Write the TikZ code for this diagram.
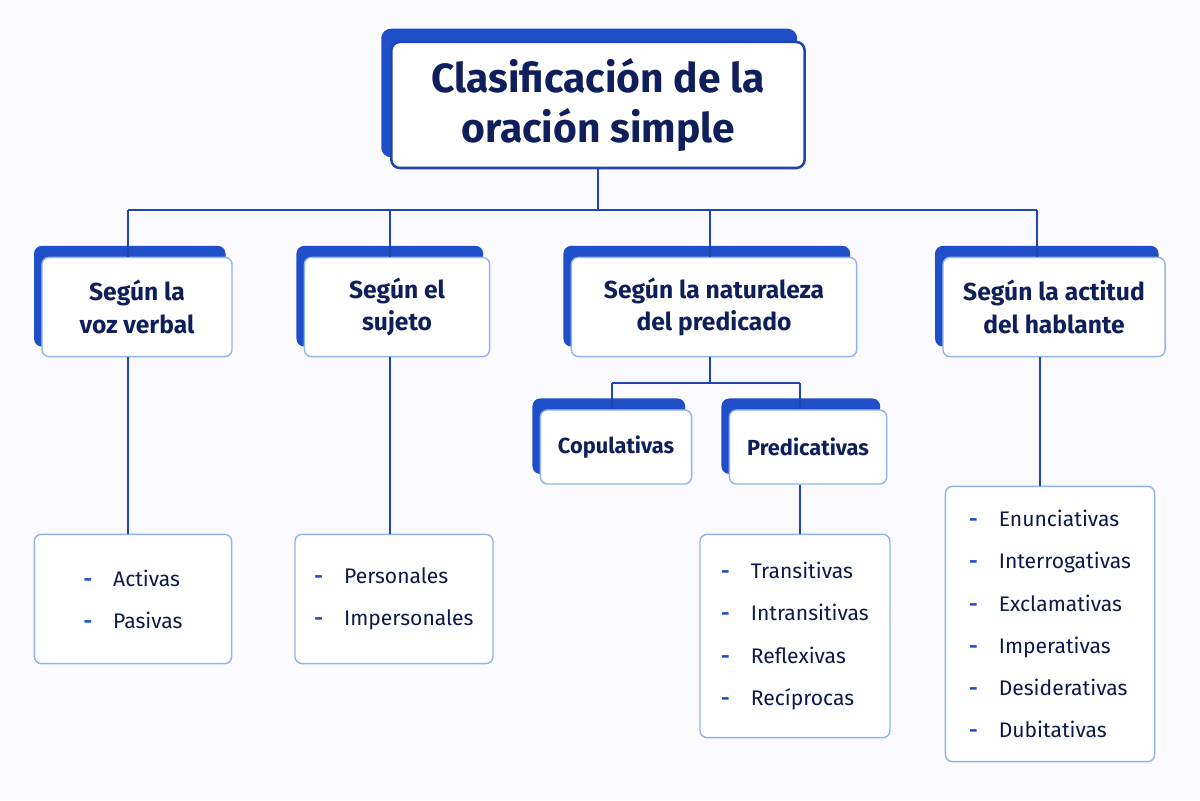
\documentclass[tikz,border=0pt]{standalone}
\usepackage{fontspec}
\setmainfont{Fira Sans}
\usetikzlibrary{shadows,positioning}
\definecolor{navy}{HTML}{0F1F5C}
\definecolor{boxblue}{HTML}{1F4FC8}
\definecolor{lightblue}{HTML}{8FB4EE}
\definecolor{lineblue}{HTML}{1E45B0}
\begin{document}
\begin{tikzpicture}[x=0.025cm, y=-0.025cm,
    title/.style={rectangle, rounded corners=6pt, draw=lineblue, line width=1.8pt, fill=white, text=navy, font=\bfseries\fontsize{29}{35}\selectfont, align=center, minimum width=10.33cm, minimum height=3.15cm, copy shadow={shadow xshift=-0.22cm, shadow yshift=0.3cm, fill=boxblue, draw=boxblue}},
    cat/.style={rectangle, rounded corners=5pt, draw=lightblue, line width=1pt, fill=white, text=navy, font=\bfseries\fontsize{17.5}{23}\selectfont, align=center, minimum height=2.48cm, copy shadow={shadow xshift=-0.18cm, shadow yshift=0.27cm, fill=boxblue, draw=boxblue}},
    sub/.style={cat, font=\bfseries\fontsize{15.5}{20}\selectfont, minimum height=1.85cm},
    leaf/.style={rectangle, rounded corners=5pt, draw=lightblue, line width=1pt, fill=white, text=navy!80!black, font=\fontsize{15}{30}\selectfont, align=left, inner xsep=10pt},
    conn/.style={draw=lineblue, line width=2pt}
]
\fill[blue!2] (0,0) rectangle (1200,800);

% top
\node (top) [title] at (598,105) {Clasificación de la\\oración simple};

% categories
\node (voz) [cat, minimum width=4.75cm] at (137,307) {Según la\\voz verbal};
\node (suj) [cat, minimum width=4.63cm] at (397,307) {Según el\\sujeto};
\node (nat) [cat, minimum width=7.13cm] at (714,307) {Según la naturaleza\\del predicado};
\node (act) [cat, minimum width=5.55cm] at (1054,307) {Según la actitud\\del hablante};

\node (cop) [sub, minimum width=3.78cm] at (616,447) {Copulativas};
\node (pred) [sub, minimum width=3.93cm] at (808,447) {Predicativas};

% lists
\newcommand{\dd}{{\color{boxblue}\textbf{-}}\quad}
\node (lvoz) [leaf, minimum width=4.93cm, minimum height=3.23cm] at (133,599) {\dd Activas\\\dd Pasivas};
\node (lsuj) [leaf, minimum width=4.95cm, minimum height=3.23cm] at (394,599) {\dd Personales\\\dd Impersonales};
\node (lpred) [leaf, minimum width=4.75cm, minimum height=5.08cm] at (795,636) {\dd Transitivas\\\dd Intransitivas\\\dd Reflexivas\\\dd Recíprocas};
\node (lact) [leaf, minimum width=5.23cm, minimum height=6.88cm] at (1050,624) {\dd Enunciativas\\\dd Interrogativas\\\dd Exclamativas\\\dd Imperativas\\\dd Desiderativas\\\dd Dubitativas};

% connectors
\coordinate (busL) at (128,210);
\coordinate (busR) at (1037,210);
\coordinate (busC) at (612,383);
\coordinate (busD) at (800,383);
\draw[conn] (top.south) -- (top.south |- busL);
\draw[conn] (busL) -- (busR);
\draw[conn] (busL) -- (voz.north -| busL);
\draw[conn] (suj.north -| 390,0) -- (390,210);
\draw[conn] (nat.north -| 710,0) -- (710,210);
\draw[conn] (busR) -- (act.north -| busR);
\draw[conn] (voz.south -| busL) -- (lvoz.north -| busL);
\draw[conn] (suj.south -| 390,0) -- (lsuj.north -| 390,0);
\draw[conn] (nat.south -| 710,0) -- (710,383);
\draw[conn] (busC) -- (busD);
\draw[conn] (busC) -- (cop.north -| busC);
\draw[conn] (busD) -- (pred.north -| busD);
\draw[conn] (pred.south -| busD) -- (lpred.north -| busD);
\draw[conn] (act.south -| 1040,0) -- (lact.north -| 1040,0);
\end{tikzpicture}
\end{document}
